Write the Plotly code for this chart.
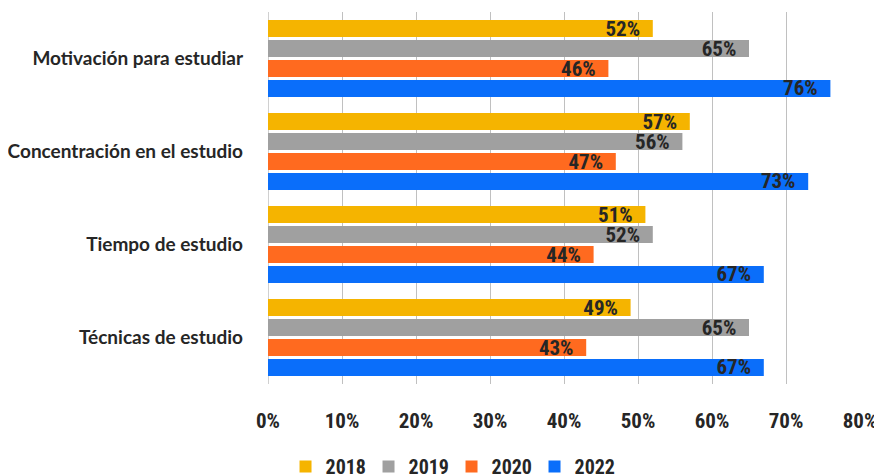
import plotly.graph_objects as go

categories = ["Motivación para estudiar", "Concentración en el estudio", "Tiempo de estudio", "Técnicas de estudio"]
years = ["2018", "2019", "2020", "2022"]
v2018 = [52, 57, 51, 49]
v2019 = [65, 56, 52, 65]
v2020 = [46, 47, 44, 43]
v2022 = [76, 73, 67, 67]
series = [v2018, v2019, v2020, v2022]
colors = ["#F5B400", "#A0A0A0", "#FF6A1F", "#0A6EFA"]
tick_vals = [0, 10, 20, 30, 40, 50, 60, 70, 80]
tick_text = ["0%", "10%", "20%", "30%", "40%", "50%", "60%", "70%", "80%"]

cond = "Roboto Condensed, Roboto, sans-serif"

fig = go.Figure()
for yr, vals, col in zip(years, series, colors):
    fig.add_trace(go.Bar(
        name=yr, y=categories, x=vals, orientation="h",
        marker=dict(color=col, line=dict(width=0)),
        text=[f"{v}%" for v in vals],
        texttemplate="%{text}\u00a0\u00a0",
        textposition="inside", insidetextanchor="end", constraintext="none",
        insidetextfont=dict(family=cond, size=21, color="#262626", weight="bold"),
        cliponaxis=False,
    ))

fig.update_layout(
    width=882, height=476,
    margin=dict(l=260, r=30, t=4, b=100, autoexpand=False),
    paper_bgcolor="white", plot_bgcolor="white",
    barmode="group", bargap=0.14, bargroupgap=0.15,
    showlegend=True,
    legend=dict(orientation="h", x=0.31, xanchor="center", y=-0.222, yanchor="middle",
                font=dict(family=cond, size=20, color="#262626", weight="bold"),
                itemwidth=30, entrywidth=38, entrywidthmode="pixels", traceorder="normal"),
    xaxis=dict(range=[0, 80], tickvals=tick_vals, ticktext=tick_text, automargin=False,
               showgrid=True, gridcolor="#C0C0C0", gridwidth=1, zeroline=False,
               showline=False, ticks="", ticklabelstandoff=22,
               tickfont=dict(family=cond, size=21, color="#262626", weight="bold")),
    yaxis=dict(autorange="reversed", showgrid=False, zeroline=False, showline=False,
               ticks="", ticklabelstandoff=24, automargin=False,
               tickfont=dict(family="Lato, sans-serif", size=19, color="#262626", weight="bold")),
)
fig.add_vline(x=0, line=dict(color="#C0C0C0", width=1.5), layer="below")

fig.write_html("out.html")
